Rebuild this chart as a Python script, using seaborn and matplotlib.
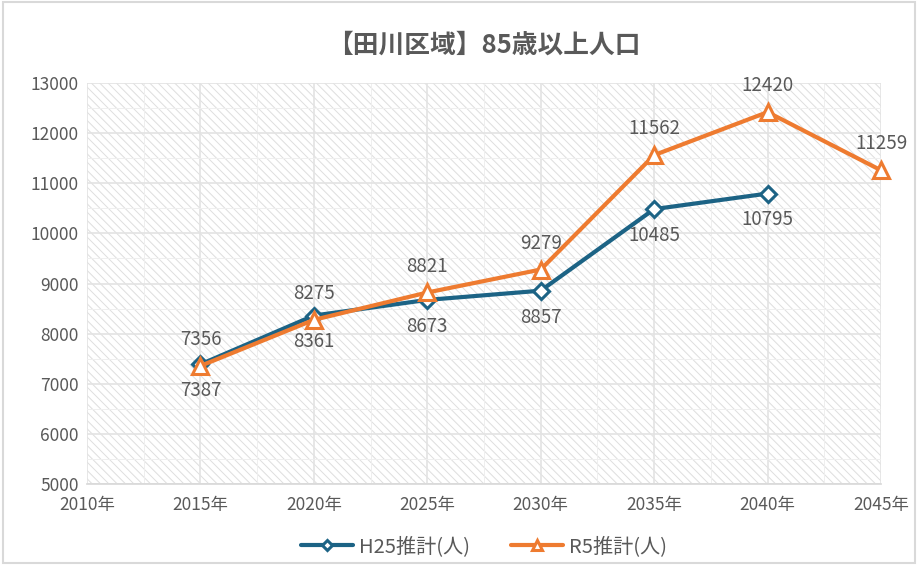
import numpy as np
import pandas as pd
import seaborn as sns
from matplotlib import pyplot as plt
from matplotlib.patches import Rectangle
from matplotlib.ticker import MultipleLocator

years = [2015, 2020, 2025, 2030, 2035, 2040, 2045]
h25 = [7387, 8361, 8673, 8857, 10485, 10795, np.nan]
r5 = [7356, 8275, 8821, 9279, 11562, 12420, 11259]
x_ticks = [2010, 2015, 2020, 2025, 2030, 2035, 2040, 2045]
x_labels = [f"{y}年" for y in x_ticks]
y_ticks = list(range(5000, 13001, 1000))

df = pd.DataFrame({"year": years, "H25推計(人)": h25, "R5推計(人)": r5})

sns.set_theme(style="white")
plt.rcParams['font.family'] = ['Noto Sans CJK JP', 'DejaVu Sans']
plt.rcParams['hatch.color'] = '#dedede'
plt.rcParams['hatch.linewidth'] = 0.7

grey = '#595959'
blue = '#1c6385'
orange = '#ee7b30'

fig, ax = plt.subplots(figsize=(9.18, 5.65), dpi=100)
fig.subplots_adjust(left=0.0948, right=0.9597, top=0.853, bottom=0.1434)

# hatched plot area
ax.patch.set_facecolor('white')
ax.patch.set_hatch('\\\\\\\\')
ax.patch.set_edgecolor('#dedede')

sns.lineplot(data=df, x="year", y="H25推計(人)", ax=ax, color=blue, lw=3,
             marker='D', markersize=8, markerfacecolor='white',
             markeredgecolor=blue, markeredgewidth=2.2, label="H25推計(人)",
             zorder=3, clip_on=False)
sns.lineplot(data=df, x="year", y="R5推計(人)", ax=ax, color=orange, lw=3,
             marker='^', markersize=12, markerfacecolor='white',
             markeredgecolor=orange, markeredgewidth=2.2, label="R5推計(人)",
             zorder=4, clip_on=False)

for x, v in zip(years, h25):
    if not np.isnan(v):
        ax.annotate(f"{v:.0f}", (x, v), xytext=(0, -19), textcoords='offset points',
                    ha='center', va='center', fontsize=13.5, color=grey)
for x, v in zip(years, r5):
    ax.annotate(f"{v:.0f}", (x, v), xytext=(0, 19), textcoords='offset points',
                ha='center', va='center', fontsize=13.5, color=grey)

ax.set_xlim(2010, 2045)
ax.set_ylim(5000, 13000)
ax.set_xticks(x_ticks)
ax.set_xticklabels(x_labels)
ax.set_yticks(y_ticks)
ax.xaxis.set_minor_locator(MultipleLocator(2.5))
ax.yaxis.set_minor_locator(MultipleLocator(500))
ax.grid(which='major', color='#e3e3e3', lw=1.2)
ax.grid(which='minor', color='#efefef', lw=0.7)
ax.set_axisbelow(True)
ax.tick_params(axis='y', which='both', length=0, labelsize=12.5, labelcolor=grey, pad=6)
ax.tick_params(axis='x', which='both', length=0, labelsize=12.5, labelcolor=grey, pad=9)
ax.set_xlabel("")
ax.set_ylabel("")
for side in ['top', 'right', 'left']:
    ax.spines[side].set_visible(False)
ax.spines['bottom'].set_color('#d9d9d9')

ax.set_title("【田川区域】85歳以上人口", fontsize=18.5, color=grey, pad=22, fontweight='bold')

ax.legend(loc='upper center', bbox_to_anchor=(0.5, -0.085), ncol=2, frameon=False,
          fontsize=14.5, labelcolor=grey, handlelength=2.6, columnspacing=2.0,
          markerscale=0.65, handletextpad=0.3)

fig.patches.append(Rectangle((0.003, 0.003), 0.994, 0.994, transform=fig.transFigure,
                             fill=False, edgecolor='#d9d9d9', lw=1.5))

plt.savefig("out.png", dpi=100)
